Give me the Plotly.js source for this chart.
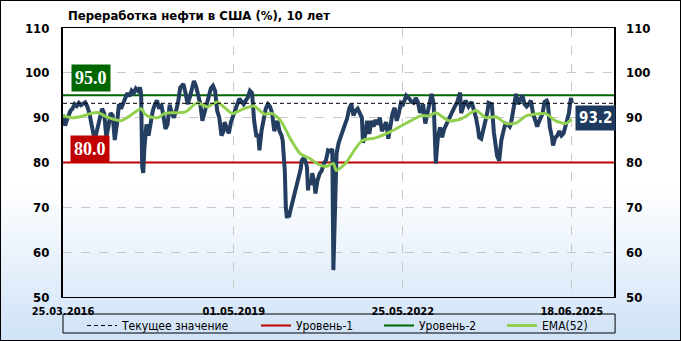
<!DOCTYPE html>
<html><head><meta charset="utf-8">
<script src="https://cdn.plot.ly/plotly-3.0.1.min.js"></script>
<style>
html,body{margin:0;padding:0;}
body{width:681px;height:341px;overflow:hidden;background:linear-gradient(to bottom,#ffffff 0%,#ffffff 55%,#cfe2f7 100%);}
#chart{position:absolute;left:0;top:0;width:681px;height:341px;}
#frame{position:absolute;left:0;top:0;width:681px;height:341px;box-sizing:border-box;border:1px solid #000;pointer-events:none;}
</style></head>
<body><div id="chart"></div><div id="frame"></div>
<script>
// ---- data ----
const utilDates = ["2016-03-25","2016-04-01","2016-04-08","2016-04-15","2016-04-29","2016-05-13","2016-05-27","2016-06-10","2016-06-24","2016-07-08","2016-07-22","2016-08-05","2016-08-19","2016-09-02","2016-09-16","2016-09-30","2016-10-14","2016-10-21","2016-10-28","2016-11-11","2016-11-25","2016-12-09","2016-12-23",
"2017-01-06","2017-01-20","2017-02-03","2017-02-17","2017-03-03","2017-03-17","2017-03-31","2017-04-14","2017-04-28","2017-05-12","2017-05-26","2017-06-09","2017-06-23","2017-07-07","2017-07-21","2017-08-04","2017-08-18","2017-08-25","2017-09-01","2017-09-08","2017-09-15","2017-09-22","2017-09-29","2017-10-13","2017-10-27","2017-11-10","2017-11-24","2017-12-08","2017-12-22",
"2018-01-05","2018-01-19","2018-02-02","2018-02-16","2018-03-02","2018-03-16","2018-03-30","2018-04-13","2018-04-27","2018-05-11","2018-06-01","2018-06-15","2018-06-29","2018-07-13","2018-07-27","2018-08-10","2018-08-24","2018-09-07","2018-09-21","2018-10-05","2018-10-19","2018-11-02","2018-11-16","2018-11-30","2018-12-14","2018-12-28",
"2019-01-11","2019-01-25","2019-02-08","2019-02-22","2019-03-01","2019-03-15","2019-03-29","2019-04-12","2019-04-26","2019-05-10","2019-05-24","2019-06-07","2019-06-21","2019-07-05","2019-07-19","2019-08-02","2019-08-16","2019-08-30","2019-09-13","2019-09-27","2019-10-11","2019-10-18","2019-11-01","2019-11-15","2019-11-29","2019-12-13","2019-12-27",
"2020-01-10","2020-01-24","2020-02-07","2020-02-14","2020-02-28","2020-03-13","2020-03-20","2020-03-27","2020-04-03","2020-04-10","2020-04-17","2020-04-24","2020-05-01","2020-05-08","2020-05-22","2020-06-05","2020-06-19","2020-07-03","2020-07-17","2020-07-24","2020-08-07","2020-08-21","2020-08-28","2020-09-04","2020-09-11","2020-09-25","2020-10-02","2020-10-16","2020-10-23","2020-11-06","2020-11-20","2020-12-04","2020-12-18",
"2021-01-01","2021-01-15","2021-01-29","2021-02-12","2021-02-19","2021-02-26","2021-03-05","2021-03-12","2021-03-26","2021-04-09","2021-04-23","2021-05-07","2021-05-21","2021-06-04","2021-06-18","2021-07-02","2021-07-16","2021-07-30","2021-08-13","2021-08-27","2021-09-03","2021-09-17","2021-10-01","2021-10-15","2021-10-29","2021-11-12","2021-11-26","2021-12-10","2021-12-24",
"2022-01-07","2022-01-21","2022-02-04","2022-02-18","2022-03-04","2022-03-18","2022-04-01","2022-04-15","2022-04-29","2022-05-13","2022-05-27","2022-06-17","2022-07-08","2022-07-22","2022-08-05","2022-08-19","2022-09-02","2022-09-16","2022-09-30","2022-10-07","2022-10-21","2022-11-04","2022-11-18","2022-12-02","2022-12-16","2022-12-30",
"2023-01-06","2023-01-13","2023-01-27","2023-02-10","2023-02-24","2023-03-10","2023-03-24","2023-04-07","2023-04-21","2023-05-05","2023-05-19","2023-06-09","2023-06-16","2023-06-30","2023-07-14","2023-07-28","2023-08-04","2023-08-25","2023-09-08","2023-09-22","2023-10-06","2023-10-13","2023-10-27","2023-11-10","2023-11-24","2023-12-08","2023-12-15","2023-12-29",
"2024-01-05","2024-01-19","2024-02-02","2024-02-09","2024-02-23","2024-03-08","2024-03-22","2024-04-05","2024-04-19","2024-05-03","2024-05-10","2024-05-24","2024-05-31","2024-06-14","2024-06-28","2024-07-12","2024-07-26","2024-08-09","2024-08-23","2024-09-06","2024-09-20","2024-10-04","2024-10-18","2024-11-01","2024-11-08","2024-11-22","2024-12-06","2024-12-20",
"2025-01-03","2025-01-10","2025-01-24","2025-02-07","2025-02-14","2025-02-28","2025-03-14","2025-03-28","2025-04-11","2025-04-25","2025-05-09","2025-05-16","2025-05-30","2025-06-06","2025-06-13","2025-06-18"];
const utilValues = [90.7,89.5,88.2,89.0,90.5,91.5,92.0,93.0,92.6,93.3,92.8,93.0,93.4,92.5,91.0,88.5,86.4,85.0,86.0,88.2,90.5,92.0,91.0,
85.6,88.0,91.0,90.5,85.0,88.5,93.0,92.0,93.5,94.4,95.5,94.8,96.0,95.5,96.5,96.0,96.7,95.0,79.0,77.7,83.0,86.5,88.5,86.0,89.0,91.5,93.0,93.8,92.0,
93.0,90.5,87.5,88.5,92.9,91.0,90.0,91.5,93.5,96.7,97.5,95.5,93.0,94.5,96.5,98.2,97.0,95.0,93.0,89.3,91.0,93.5,94.5,96.5,97.1,96.0,
91.5,90.0,86.0,87.0,89.0,88.0,86.5,89.0,90.5,92.0,93.0,94.2,93.5,93.0,93.8,94.5,96.0,95.5,89.3,86.0,86.0,82.7,87.1,90.0,92.0,93.0,92.5,
91.0,87.0,88.5,89.3,87.0,86.0,84.9,82.0,78.2,70.0,67.6,68.5,67.8,69.0,70.9,72.0,74.4,76.0,78.5,80.4,81.1,80.0,78.9,73.8,76.0,75.0,77.6,75.5,73.1,76.0,77.5,78.2,79.8,
80.5,82.7,82.5,83.0,56.0,68.0,76.0,82.0,84.4,85.6,86.7,88.5,89.8,92.0,93.0,90.5,91.5,92.0,91.0,90.0,84.4,86.0,89.3,86.4,89.3,88.0,89.5,88.5,90.0,
87.0,88.0,89.0,85.3,88.0,90.9,92.2,89.3,91.0,93.3,93.0,94.9,94.2,93.5,93.3,94.4,93.5,91.1,92.0,93.0,88.7,91.0,93.8,95.3,93.0,79.8,
83.0,85.6,87.8,85.6,87.5,88.5,90.0,90.5,91.6,92.5,93.3,95.6,91.0,92.5,93.8,93.0,92.5,93.5,92.0,90.0,87.5,85.6,85.3,87.0,89.3,91.5,93.3,93.1,
93.0,86.7,83.3,81.5,80.4,84.9,87.0,88.7,88.5,88.0,88.5,91.5,93.3,95.3,93.0,94.0,95.0,93.0,92.5,93.0,93.8,91.0,89.3,88.0,88.7,90.0,90.9,93.5,
93.8,93.3,87.8,85.6,83.8,85.5,86.0,87.0,86.0,86.5,88.0,89.3,91.0,93.0,94.4,93.2];

const emaDates = ["2016-03-25","2016-06-01","2016-08-15","2016-10-01","2016-11-15","2017-01-01","2017-03-01","2017-04-15","2017-06-15","2017-08-25","2017-09-20","2017-10-20","2017-12-15","2018-02-01","2018-04-15","2018-06-15","2018-08-31","2018-11-06","2019-01-11","2019-04-21","2019-06-15","2019-09-10","2019-11-19","2020-01-12","2020-03-05","2020-04-07","2020-05-10","2020-07-14","2020-09-20","2020-11-12","2021-01-04","2021-02-19","2021-03-11","2021-05-16","2021-07-15","2021-08-30","2021-11-25","2022-03-05","2022-06-13","2022-09-21","2022-11-14","2022-12-30","2023-03-27","2023-06-14","2023-09-22","2023-11-27","2024-02-01","2024-04-09","2024-06-15","2024-08-20","2024-12-27","2025-03-03","2025-05-10","2025-06-18"];
const emaValues = [90.4,90.0,90.5,91.0,91.1,90.3,89.6,89.3,90.5,92.0,90.8,90.2,90.0,91.0,91.1,91.3,93.3,92.4,93.5,90.9,91.7,92.6,90.8,90.9,89.4,87.5,85.3,82.0,80.8,79.6,79.1,79.8,78.2,80.0,83.1,84.9,85.5,86.9,88.7,90.4,90.4,91.1,89.3,89.7,91.6,90.0,90.2,88.7,88.8,90.4,90.9,89.3,88.7,89.6];

const levelNames = ["Уровень-1","Уровень-2"];
const levelValues = [80.0, 95.0];
const currentName = "Текущее значение";
const emaName = "EMA(52)";
const axisRange = ["2016-03-25","2026-03-25"];
const tickDates = ["2016-03-25","2019-05-01","2022-05-25","2025-06-18"];
const tickLabels = ["25.03.2016","01.05.2019","25.05.2022","18.06.2025"];
const titleText = "Переработка нефти в США (%), 10 лет";

// ---- chart ----
const current = utilValues[utilValues.length-1];
const F = "Tahoma, 'DejaVu Sans Condensed', 'Liberation Sans', Arial, sans-serif";
const traces = [
  {x: axisRange, y:[current,current], yaxis:'y2', mode:'lines', name: currentName, legend:'legend',
   line:{color:'#000', width:1, dash:'4px,3px'}, hoverinfo:'skip'},
  {x: axisRange, y:[levelValues[0],levelValues[0]], mode:'lines', name: levelNames[0], legend:'legend2',
   line:{color:'#c00000', width:2}, hoverinfo:'skip'},
  {x: axisRange, y:[levelValues[1],levelValues[1]], mode:'lines', name: levelNames[1], legend:'legend3',
   line:{color:'#006600', width:2}, hoverinfo:'skip'},
  {x: utilDates, y: utilValues, mode:'lines', name:'util', showlegend:false,
   line:{color:'#233e60', width:4}},
  {x: emaDates, y: emaValues, mode:'lines', name: emaName, legend:'legend4',
   line:{color:'#92d050', width:3, shape:'spline', smoothing:0.6}}
];
function lg(px){
  return {orientation:'h', xref:'container', x:(px-6)/681, xanchor:'left', yref:'container', y:1-311/341, yanchor:'top',
          bgcolor:'rgba(0,0,0,0)', borderwidth:0, font:{family:F, size:12, color:'#000'}, itemwidth:30};
}
const layout = {
  width:681, height:341,
  margin:{l:63, r:67, t:28, b:44, autoexpand:false},
  paper_bgcolor:'rgba(0,0,0,0)', plot_bgcolor:'rgba(0,0,0,0)',
  title:{text:titleText, x:68/681, xanchor:'left', y:1-15/341, yanchor:'middle',
         font:{family:F, size:13, color:'#000', weight:'bold'}},
  xaxis:{type:'date', range:axisRange, tickvals:tickDates, ticktext:tickLabels,
         showgrid:true, gridcolor:'#c8c8c8', griddash:'dash', gridwidth:1,
         showline:true, linecolor:'#000', linewidth:1, mirror:true, zeroline:false,
         ticks:'', ticklabelstandoff:4, tickfont:{family:F, size:11, color:'#000', weight:'bold'}},
  yaxis:{range:[50,110], dtick:10, tick0:50, showgrid:true, gridcolor:'#c8c8c8', griddash:'dash',
         showline:true, linecolor:'#000', linewidth:2, mirror:true, zeroline:false,
         ticks:'', ticklabelstandoff:9, tickfont:{family:F, size:13, color:'#000', weight:'bold'}},
  yaxis2:{range:[50,110], dtick:10, tick0:50, overlaying:'y', side:'right', showgrid:false,
          zeroline:false, ticks:'', ticklabelstandoff:11, tickfont:{family:F, size:13, color:'#000', weight:'bold'}},
  showlegend:true,
  legend:lg(88), legend2:lg(262), legend3:lg(385), legend4:lg(508),
  shapes:[{type:'rect', xref:'paper', yref:'paper', x0:0, x1:1.002, y0:-(314-297)/269, y1:-(333-297)/269,
           line:{color:'#000', width:1}, fillcolor:'rgba(0,0,0,0)'}],
  annotations:[
    {xref:'paper', yref:'y', x:(91-63)/551, xanchor:'center', y:98.9, text:levelValues[1].toFixed(1), showarrow:false,
     bgcolor:'#006600', font:{family:"'Liberation Serif', 'DejaVu Serif', serif", size:18, color:'#fff', weight:'bold'}, borderpad:3},
    {xref:'paper', yref:'y', x:(90-63)/551, xanchor:'center', y:83.1, text:levelValues[0].toFixed(1), showarrow:false,
     bgcolor:'#c00000', font:{family:"'Liberation Serif', 'DejaVu Serif', serif", size:18, color:'#fff', weight:'bold'}, borderpad:3},
    {xref:'paper', yref:'y', x:(595-63)/551, xanchor:'center', y:89.9, text:current.toFixed(1), showarrow:false,
     bgcolor:'#1f3a60', font:{family:F, size:15, color:'#fff', weight:'bold'}, borderpad:3}
  ]
};
Plotly.newPlot('chart', traces, layout, {displayModeBar:false, staticPlot:true});
</script></body></html>
